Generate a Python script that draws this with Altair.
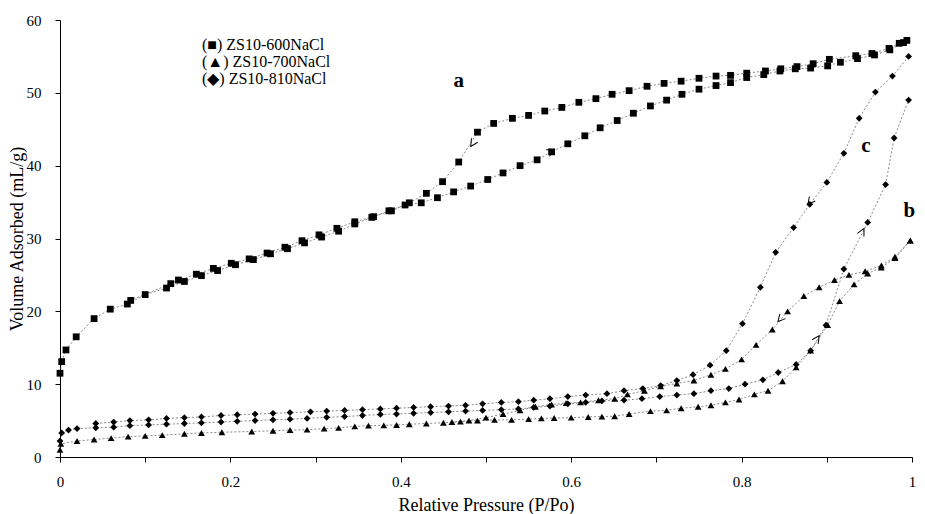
import altair as alt
import pandas as pd

# ---------------- data ----------------
series_names = ["ZS10-600NaCl", "ZS10-700NaCl", "ZS10-810NaCl"]

# ZS10-600NaCl (squares) adsorption branch
a_ads_x = [0.0, 0.002, 0.007, 0.019, 0.040, 0.059, 0.079, 0.100, 0.125, 0.146, 0.166, 0.185,
           0.206, 0.227, 0.247, 0.267, 0.287, 0.307, 0.327, 0.346, 0.366, 0.386, 0.405, 0.424,
           0.443, 0.462, 0.482, 0.502, 0.520, 0.540, 0.560, 0.577, 0.596, 0.616, 0.634, 0.654,
           0.673, 0.693, 0.712, 0.730, 0.750, 0.770, 0.787, 0.806, 0.826, 0.845, 0.863, 0.881,
           0.901, 0.916, 0.936, 0.956, 0.974, 0.990]
a_ads_y = [11.5, 13.1, 14.7, 16.5, 19.0, 20.3, 21.0, 22.3, 23.2, 24.1, 24.9, 25.6,
           26.4, 27.1, 27.9, 28.6, 29.4, 30.2, 31.0, 32.0, 32.9, 33.8, 34.6, 34.9,
           35.6, 36.4, 37.2, 38.1, 39.0, 40.0, 40.8, 41.9, 43.0, 44.1, 45.2, 46.2,
           47.2, 48.2, 49.0, 49.8, 50.5, 51.0, 51.4, 52.1, 52.5, 53.0, 53.3, 53.4,
           53.7, 54.2, 54.7, 55.2, 55.9, 56.9]
# ZS10-600NaCl desorption branch
a_des_x = [0.994, 0.985, 0.973, 0.953, 0.934, 0.903, 0.884, 0.865, 0.846, 0.828, 0.806, 0.787,
           0.770, 0.750, 0.729, 0.709, 0.689, 0.668, 0.648, 0.629, 0.609, 0.589, 0.569, 0.550,
           0.531, 0.509, 0.490, 0.468, 0.449, 0.430, 0.410, 0.389, 0.368, 0.346, 0.325, 0.304,
           0.284, 0.264, 0.243, 0.222, 0.201, 0.180, 0.160, 0.139, 0.130, 0.083]
a_des_y = [57.2, 56.8, 56.1, 55.4, 55.1, 54.6, 54.0, 53.6, 53.3, 53.0, 52.7, 52.4,
           52.3, 52.0, 51.6, 51.3, 50.9, 50.3, 49.8, 49.2, 48.7, 48.0, 47.5, 46.9,
           46.5, 45.8, 44.6, 40.5, 37.8, 36.2, 34.9, 33.8, 33.0, 32.3, 31.4, 30.5,
           29.7, 28.8, 28.0, 27.2, 26.6, 25.9, 25.1, 24.3, 23.8, 21.5]

# ZS10-700NaCl (triangles) adsorption branch
b_ads_x = [0.0, 0.001, 0.02, 0.04, 0.06, 0.08, 0.10, 0.12, 0.146, 0.166, 0.19, 0.225, 0.25,
           0.27, 0.29, 0.31, 0.327, 0.346, 0.362, 0.38, 0.395, 0.41, 0.43, 0.45, 0.47, 0.49,
           0.51, 0.53, 0.55, 0.565, 0.58, 0.60, 0.62, 0.636, 0.651, 0.668, 0.693, 0.712,
           0.729, 0.749, 0.764, 0.781, 0.797, 0.815, 0.831, 0.848, 0.864, 0.881, 0.901,
           0.915, 0.932, 0.948, 0.964, 0.98, 0.998]
b_ads_y = [1.0, 1.8, 2.2, 2.4, 2.6, 2.8, 2.9, 3.0, 3.2, 3.3, 3.4, 3.5, 3.6,
           3.7, 3.75, 3.9, 4.0, 4.2, 4.3, 4.35, 4.4, 4.5, 4.6, 4.7, 4.85, 5.0,
           5.1, 5.1, 5.2, 5.3, 5.35, 5.4, 5.5, 5.55, 5.6, 5.9, 6.3, 6.4,
           6.7, 6.9, 7.1, 7.5, 7.9, 8.6, 9.1, 10.4, 12.3, 14.6, 18.1,
           21.4, 23.7, 25.2, 26.0, 27.3, 29.7]
# ZS10-700NaCl desorption branch
b_des_x = [0.998, 0.98, 0.964, 0.945, 0.926, 0.909, 0.891, 0.873, 0.854, 0.836, 0.817, 0.80,
           0.781, 0.764, 0.744, 0.724, 0.705, 0.686, 0.666, 0.651, 0.632, 0.611, 0.594, 0.577,
           0.558, 0.54, 0.52, 0.50, 0.48, 0.46]
b_des_y = [29.7, 27.5, 26.3, 25.5, 25.0, 24.3, 23.3, 22.1, 20.0, 17.5, 15.4, 13.4,
           12.1, 11.3, 10.5, 10.1, 9.7, 9.1, 8.6, 8.0, 7.8, 7.5, 7.4, 7.2,
           6.9, 6.4, 5.9, 5.4, 5.0, 4.8]

# ZS10-810NaCl (diamonds) adsorption branch
c_ads_x = [0.0, 0.002, 0.01, 0.02, 0.042, 0.063, 0.082, 0.104, 0.125, 0.146, 0.166, 0.189,
           0.208, 0.229, 0.25, 0.27, 0.29, 0.313, 0.334, 0.355, 0.376, 0.395, 0.415, 0.435,
           0.456, 0.476, 0.496, 0.518, 0.538, 0.556, 0.575, 0.596, 0.617, 0.636, 0.662, 0.683,
           0.704, 0.724, 0.744, 0.764, 0.785, 0.804, 0.825, 0.843, 0.864, 0.881, 0.899, 0.92,
           0.948, 0.969, 0.979, 0.996]
c_ads_y = [2.2, 3.3, 3.7, 3.9, 4.0, 4.1, 4.3, 4.4, 4.5, 4.6, 4.7, 4.8,
           4.9, 5.0, 5.1, 5.2, 5.3, 5.45, 5.55, 5.7, 5.85, 5.9, 6.0, 6.1,
           6.2, 6.3, 6.4, 6.5, 6.6, 6.8, 7.0, 7.3, 7.5, 7.7, 7.8, 8.0,
           8.3, 8.5, 8.7, 9.1, 9.4, 10.0, 10.6, 11.6, 12.7, 14.6, 18.1, 25.8,
           32.2, 37.4, 43.8, 49.0]
# ZS10-810NaCl desorption branch
c_des_x = [0.996, 0.977, 0.957, 0.938, 0.92, 0.90, 0.88, 0.861, 0.84, 0.822, 0.801, 0.782,
           0.763, 0.743, 0.724, 0.705, 0.684, 0.662, 0.642, 0.617, 0.596, 0.575, 0.556, 0.538,
           0.518, 0.496, 0.476, 0.456, 0.435, 0.415, 0.395, 0.376, 0.355, 0.334, 0.313, 0.294,
           0.27, 0.25, 0.229, 0.208, 0.189, 0.166, 0.146, 0.125, 0.104, 0.082, 0.063, 0.042]
c_des_y = [55.0, 52.3, 50.1, 46.5, 41.7, 37.7, 34.7, 31.5, 28.1, 23.3, 18.3, 14.6,
           12.6, 11.3, 10.5, 9.8, 9.4, 9.1, 8.7, 8.5, 8.3, 8.0, 7.8, 7.6,
           7.5, 7.3, 7.1, 7.0, 6.9, 6.8, 6.7, 6.6, 6.5, 6.4, 6.3, 6.2,
           6.1, 6.0, 5.9, 5.8, 5.7, 5.5, 5.4, 5.3, 5.1, 5.0, 4.8, 4.6]

# curve labels
label_text = ["a", "b", "c"]
label_x = [0.468, 0.997, 0.946]
label_y = [51.6, 33.8, 42.7]

# direction arrows (position on the curve and direction in degrees)
arrow_x = [0.484, 0.577, 0.880, 0.942, 0.845, 0.889]
arrow_y = [43.0, 42.0, 35.0, 31.0, 18.9, 16.3]
arrow_dir = [122, 333, 127, 297, 131, 304]

legend_labels = ["(■) ZS10-600NaCl", "(▲) ZS10-700NaCl", "(◆) ZS10-810NaCl"]

# ---------------- build tables ----------------
rows = []
for name, branch, xs, ys in [
    (series_names[0], "ads", a_ads_x, a_ads_y), (series_names[0], "des", a_des_x, a_des_y),
    (series_names[1], "ads", b_ads_x, b_ads_y), (series_names[1], "des", b_des_x, b_des_y),
    (series_names[2], "ads", c_ads_x, c_ads_y), (series_names[2], "des", c_des_x, c_des_y),
]:
    for i, (xv, yv) in enumerate(zip(xs, ys)):
        rows.append({"series": name, "branch": branch, "key": name + branch,
                     "order": i, "x": xv, "y": yv})
df = pd.DataFrame(rows)
labels_df = pd.DataFrame({"t": label_text, "x": label_x, "y": label_y})
arrows_df = pd.DataFrame({"x": arrow_x, "y": arrow_y, "angle": arrow_dir})

FONT = "Liberation Serif"

x_ticks = [0.0, 0.1, 0.2, 0.3, 0.4, 0.5, 0.6, 0.7, 0.8, 0.9, 1.0]
y_ticks = [0, 5, 10, 15, 20, 25, 30, 35, 40, 45, 50, 55, 60]

xenc = alt.X("x:Q", scale=alt.Scale(domain=[0, 1], nice=False, zero=False),
             axis=alt.Axis(values=x_ticks, title="Relative Pressure (P/Po)",
                           labelExpr="round(datum.value*10) % 2 == 0 ? (datum.value == 0 ? '0' : (datum.value == 1 ? '1' : format(datum.value, '.1f'))) : ''",
                           tickSize=5, labelPadding=12, titlePadding=7, labelFlush=False))
yenc = alt.Y("y:Q", scale=alt.Scale(domain=[0, 60], nice=False),
             axis=alt.Axis(values=y_ticks, title="Volume Adsorbed (mL/g)",
                           labelExpr="datum.value % 10 == 0 ? datum.label : ''",
                           tickSize=5, labelPadding=14, titlePadding=0, labelFlush=False))

base = alt.Chart(df)
lines = base.mark_line(strokeDash=[2, 2], strokeWidth=0.7, color="#555555").encode(
    x=xenc, y=yenc, detail="key:N", order="order:Q")
points = base.mark_point(filled=True, color="black", opacity=1).encode(
    x="x:Q", y="y:Q",
    shape=alt.Shape("series:N", scale=alt.Scale(domain=series_names,
                                                 range=["square", "triangle-up", "diamond"]),
                    legend=None),
    size=alt.Size("series:N", scale=alt.Scale(domain=series_names, range=[46, 46, 40]),
                  legend=None))

letters = alt.Chart(labels_df).mark_text(font=FONT, fontSize=21, fontWeight="bold",
                                         color="black").encode(x="x:Q", y="y:Q", text="t:N")

arrows = alt.Chart(arrows_df).mark_point(
    shape="M-0.8,-0.7L0.6,0L-0.8,0.7", filled=False, stroke="black", strokeWidth=1,
    size=110, opacity=1).encode(x="x:Q", y="y:Q", angle=alt.Angle("angle:Q", scale=None))

legend_layers = []
for i, txt in enumerate(legend_labels):
    legend_layers.append(
        alt.Chart(pd.DataFrame({"t": [txt]})).mark_text(
            font=FONT, fontSize=16, align="left", baseline="middle", color="black"
        ).encode(x=alt.value(142), y=alt.value(25 + 17 * i), text="t:N"))

chart = alt.layer(lines, points, letters, arrows, *legend_layers).properties(
    width=852, height=437,
    padding={"left": 52, "top": 12, "right": 5, "bottom": 57},
    autosize=alt.AutoSizeParams(type="none"),
    background="white",
).configure_view(stroke=None).configure_axis(
    grid=False, domainColor="black", tickColor="black", labelColor="black",
    titleColor="black", labelFont=FONT, titleFont=FONT, labelFontSize=15,
    titleFontSize=18, titleFontWeight="normal", domainWidth=1)

chart.save("out.html", embed_options={"renderer": "svg", "actions": False})
